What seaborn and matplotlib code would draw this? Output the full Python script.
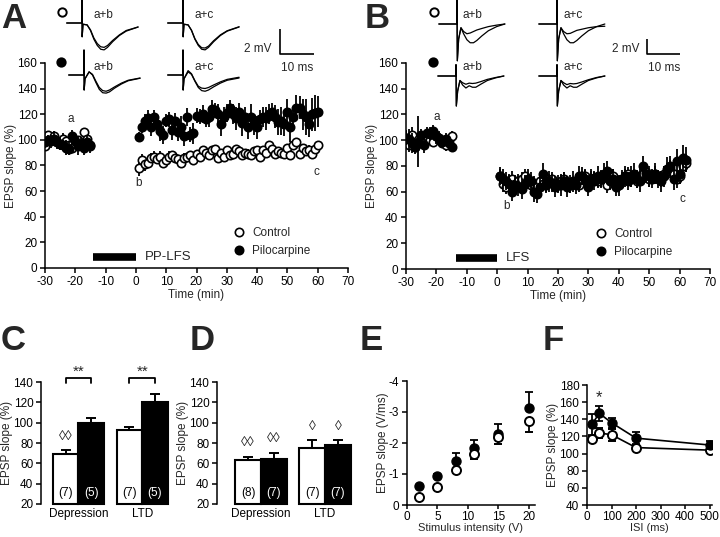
import numpy as np
import pandas as pd
import matplotlib
matplotlib.use("Agg")
import matplotlib.pyplot as plt
from matplotlib.lines import Line2D
import seaborn as sns

sns.set_style("ticks")
plt.rcParams['font.family'] = ['Liberation Sans', 'DejaVu Sans']
plt.rcParams['axes.unicode_minus'] = False
plt.rcParams['axes.linewidth'] = 1.1

# ---------------- data ----------------
# Panel A (PP-LFS)
A_base_t = list(range(-30, -14))
A_ctrl_base = [95, 104, 100, 103, 98, 97, 101, 99, 96, 94, 99, 100, 97, 106, 101, 96]
A_ctrl_base_err = [4, 3, 3, 4, 3, 3, 4, 3, 3, 4, 3, 3, 4, 3, 4, 3]
A_pilo_base = [98, 100, 99, 101, 98, 97, 96, 94, 93, 103, 99, 95, 97, 94, 98, 95]
A_pilo_base_err = [4, 4, 5, 4, 5, 5, 4, 6, 5, 5, 6, 7, 5, 6, 5, 5]
A_post_t = list(range(1, 61))
A_ctrl_post = [78, 84, 81, 82, 86, 87, 85, 87, 82, 84,
               87, 88, 86, 85, 82, 86, 87, 88, 84, 89,
               87, 92, 90, 88, 92, 93, 86, 90, 87, 92,
               88, 89, 93, 91, 88, 90, 89, 88, 91, 92,
               87, 92, 90, 96, 93, 89, 91, 90, 89, 94,
               88, 96, 98, 89, 94, 91, 92, 89, 93, 96]
A_ctrl_post_err = [6, 5, 5, 4, 4, 4, 4, 4, 3, 4,
                   4, 3, 4, 3, 3, 4, 3, 3, 4, 3,
                   3, 3, 4, 3, 3, 3, 4, 3, 3, 3,
                   3, 4, 3, 3, 3, 3, 4, 3, 3, 3,
                   4, 3, 3, 3, 3, 4, 3, 3, 4, 3,
                   4, 3, 3, 4, 3, 3, 4, 3, 3, 3]
A_pilo_post = [102, 110, 115, 117, 110, 118, 112, 107, 104, 115,
               116, 108, 115, 106, 110, 103, 118, 104, 105, 119,
               118, 120, 116, 118, 124, 123, 120, 112, 118, 121,
               125, 120, 117, 122, 113, 118, 110, 118, 112, 110,
               116, 118, 117, 120, 122, 118, 114, 115, 112, 122,
               110, 118, 125, 125, 120, 118, 112, 120, 121, 122]
A_pilo_post_err = [4, 5, 5, 6, 7, 5, 6, 8, 7, 5,
                   6, 8, 6, 7, 9, 8, 7, 6, 8, 6,
                   6, 7, 6, 8, 7, 6, 8, 9, 8, 7,
                   6, 8, 9, 7, 10, 8, 9, 10, 8, 9,
                   7, 8, 9, 8, 7, 9, 10, 11, 9, 10,
                   12, 8, 10, 9, 12, 14, 10, 13, 14, 12]

# Panel B (LFS)
B_base_t = list(range(-30, -14))
B_ctrl_base = [102, 96, 104, 95, 100, 98, 101, 103, 100, 99, 103, 101, 98, 96, 100, 103]
B_ctrl_base_err = [5, 5, 6, 4, 5, 4, 4, 5, 4, 4, 5, 4, 4, 4, 4, 4]
B_pilo_base = [102, 101, 98, 95, 99, 104, 96, 106, 105, 107, 103, 102, 99, 101, 98, 95]
B_pilo_base_err = [6, 8, 8, 6, 20, 5, 6, 4, 5, 5, 6, 5, 4, 5, 4, 4]
B_post_t = list(range(1, 63))
B_ctrl_post = [72, 66, 64, 68, 70, 66, 68, 70, 72, 68,
               65, 66, 64, 68, 66, 65, 68, 70, 66, 65,
               68, 70, 67, 65, 66, 68, 65, 70, 72, 68,
               70, 71, 68, 70, 72, 65, 70, 72, 68, 66,
               70, 72, 74, 70, 72, 68, 72, 74, 75, 70,
               72, 74, 72, 70, 74, 76, 78, 74, 70, 72,
               80, 82]
B_ctrl_post_err = [6, 6, 6, 5, 6, 5, 6, 5, 6, 5,
                   5, 6, 5, 6, 5, 5, 6, 5, 6, 5,
                   6, 5, 5, 6, 5, 6, 5, 6, 5, 5,
                   6, 5, 5, 6, 5, 6, 5, 6, 5, 6,
                   5, 6, 5, 6, 6, 5, 6, 5, 6, 6,
                   6, 6, 5, 6, 6, 6, 7, 6, 7, 6,
                   7, 7]
B_pilo_post = [72, 70, 68, 66, 60, 65, 64, 62, 66, 70,
               68, 60, 58, 64, 74, 66, 68, 67, 64, 66,
               65, 68, 64, 66, 68, 65, 72, 72, 70, 64,
               70, 68, 72, 70, 74, 76, 68, 70, 64, 65,
               70, 72, 68, 72, 74, 70, 68, 80, 74, 72,
               70, 74, 70, 68, 72, 78, 80, 70, 84, 74,
               86, 85]
B_pilo_post_err = [7, 8, 7, 8, 7, 8, 7, 8, 7, 8,
                   7, 8, 7, 8, 8, 7, 8, 7, 8, 7,
                   8, 7, 8, 7, 8, 7, 8, 7, 8, 7,
                   8, 7, 8, 7, 8, 8, 7, 8, 7, 8,
                   7, 8, 7, 8, 8, 7, 8, 8, 7, 8,
                   7, 8, 7, 8, 8, 9, 8, 9, 9, 8,
                   10, 10]

# Panels C/D
bar_cats = ["Depression", "LTD"]
C_ctrl = [69, 93]; C_ctrl_err = [4, 3]; C_ctrl_n = ["(7)", "(7)"]
C_pilo = [100, 120]; C_pilo_err = [5, 8]; C_pilo_n = ["(5)", "(5)"]
D_ctrl = [63, 75]; D_ctrl_err = [3, 8]; D_ctrl_n = ["(8)", "(7)"]
D_pilo = [64, 78]; D_pilo_err = [6, 5]; D_pilo_n = ["(7)", "(7)"]

# Panel E
E_int = [2, 5, 8, 11, 15, 20]
E_ctrl = [-0.25, -0.57, -1.12, -1.65, -2.2, -2.72]
E_ctrl_err = [0.05, 0.08, 0.1, 0.15, 0.23, 0.35]
E_pilo = [-0.6, -0.92, -1.43, -1.85, -2.3, -3.13]
E_pilo_err = [0.05, 0.08, 0.25, 0.25, 0.32, 0.5]

# Panel F
F_isi = [20, 50, 100, 200, 500]
F_ctrl = [117, 124, 122, 107, 104]
F_ctrl_err = [4, 6, 7, 3, 3]
F_pilo = [134, 147, 136, 118, 110]
F_pilo_err = [12, 9, 6, 7, 5]

# Example traces (ms, mV)
A_tr_t = [-4.5, -0.05, 0.0, 0.05, 0.3, 1.5, 2.5, 3.5, 4.5, 5.5, 6.5, 7.5, 9.0, 11.0, 13.0, 16.5]
A_open_a = [0.0, 0.0, 1.84, -1.1, -0.1, -0.15, -0.6, -1.3, -1.8, -2.1, -2.15, -1.95, -1.5, -1.0, -0.65, -0.32]
A_open_b = [0.0, 0.0, 1.84, -1.1, -0.1, -0.15, -0.55, -1.2, -1.65, -1.9, -1.95, -1.8, -1.4, -0.95, -0.6, -0.32]
A_open_c = [0.0, 0.0, 1.84, -1.1, -0.1, -0.15, -0.57, -1.25, -1.72, -1.98, -2.0, -1.85, -1.42, -0.95, -0.62, -0.3]
A_fill_a = [0.0, 0.0, 2.0, -1.2, -0.3, 0.25, 0.05, -0.5, -1.0, -1.25, -1.3, -1.2, -0.95, -0.65, -0.42, -0.24]
A_fill_b = [0.0, 0.0, 2.0, -1.2, -0.3, 0.25, 0.0, -0.6, -1.15, -1.42, -1.45, -1.35, -1.05, -0.72, -0.46, -0.26]
A_fill_c = [0.0, 0.0, 2.0, -1.2, -0.3, 0.35, 0.1, -0.45, -0.9, -1.05, -1.08, -1.0, -0.8, -0.55, -0.35, -0.18]
B_tr_t = [-5.5, -0.05, 0.0, 0.1, 0.5, 1.2, 2.0, 3.0, 4.0, 5.0, 6.0, 7.5, 9.5, 12.0, 14.5]
B_open_a = [0, 0, 3.2, -4.9, -2.0, -0.5, -1.3, -2.1, -2.5, -2.5, -2.2, -1.6, -0.9, -0.35, 0.0]
B_open_b = [0, 0, 3.2, -4.9, -2.0, -0.5, -1.0, -1.3, -1.2, -1.0, -0.8, -0.6, -0.35, -0.15, 0.0]
B_open_c = [0, 0, 3.2, -4.9, -2.0, -0.5, -1.0, -1.3, -1.25, -1.05, -0.85, -0.7, -0.5, -0.35, -0.3]
B_fill_a = [0, 0, 1.5, -4.0, -2.0, -0.6, -1.2, -1.6, -1.3, -1.5, -1.5, -1.1, -0.6, -0.25, 0.0]
B_fill_b = [0, 0, 1.5, -4.0, -2.0, -0.6, -0.9, -1.1, -0.95, -1.0, -0.95, -0.75, -0.45, -0.2, 0.0]
B_fill_c = [0, 0, 1.5, -4.0, -2.0, -0.6, -0.9, -1.15, -1.0, -1.05, -1.0, -0.8, -0.5, -0.2, 0.0]

scale_mV = 2
scale_ms = 10

# ---------------- figure ----------------
W, H = 720, 537
fig = plt.figure(figsize=(W / 100, H / 100), dpi=100)


def px_axes(l, t, r, b):
    return fig.add_axes([l / W, 1 - b / H, (r - l) / W, (b - t) / H])


FS = 8.5
MS = 6


def style_ax(ax):
    sns.despine(ax=ax)
    ax.tick_params(direction='out', length=3.5, width=1.1, labelsize=FS, pad=2, colors='black')
    for s in ax.spines.values():
        s.set_color('black')


def timecourse(ax, series, label_pos, stim, stim_label):
    for (t, y, e, face) in series:
        ax.errorbar(t, y, yerr=e, fmt='o', ms=MS, mfc=face, mec='black', mew=1.2,
                    ecolor='black', elinewidth=1.3, capsize=0, zorder=3 if face == 'black' else 2)
    ax.set_xlim(-30, 70)
    ax.set_ylim(0, 160)
    ax.set_xticks(range(-30, 71, 10))
    ax.set_yticks(range(0, 161, 20))
    ax.set_xlabel("Time (min)", fontsize=FS, labelpad=1)
    ax.set_ylabel("EPSP slope (%)", fontsize=FS, labelpad=0)
    style_ax(ax)
    for txt, (x, y) in label_pos.items():
        ax.text(x, y, txt, fontsize=FS, ha='center', va='center')
    ax.plot(stim, [8.5, 8.5], color='black', lw=5.5, solid_capstyle='butt')
    ax.text(stim[1] + 3, 8.5, stim_label, fontsize=FS + 1, va='center', ha='left')
    handles = [Line2D([], [], ls='none', marker='o', ms=MS, mfc='white', mec='black', mew=1.2),
               Line2D([], [], ls='none', marker='o', ms=MS, mfc='black', mec='black', mew=1.2)]
    ax.legend(handles, ["Control", "Pilocarpine"], loc='upper left', bbox_to_anchor=(0.622, 0.2),
              frameon=False, fontsize=FS, handlelength=1.0, handletextpad=0.6,
              borderpad=0, borderaxespad=0, labelspacing=0.5)


axA = px_axes(45, 63, 348, 268)
timecourse(axA,
           [(A_base_t, A_ctrl_base, A_ctrl_base_err, 'white'),
            (A_base_t, A_pilo_base, A_pilo_base_err, 'black'),
            (A_post_t, A_ctrl_post, A_ctrl_post_err, 'white'),
            (A_post_t, A_pilo_post, A_pilo_post_err, 'black')],
           {'a': (-21.5, 116), 'b': (1, 66), 'c': (59.5, 75)}, [-14, 0], "PP-LFS")

axB = px_axes(406, 63, 710, 269)
timecourse(axB,
           [(B_base_t, B_ctrl_base, B_ctrl_base_err, 'white'),
            (B_base_t, B_pilo_base, B_pilo_base_err, 'black'),
            (B_post_t, B_ctrl_post, B_ctrl_post_err, 'white'),
            (B_post_t, B_pilo_post, B_pilo_post_err, 'black')],
           {'a': (-20, 118), 'b': (3, 49), 'c': (61, 54)}, [-13.5, 0], "LFS")


# traces
def trace_axes(stim_x, base_y, pxms, pxmv, xlim, ylim, t, traces):
    l = stim_x + xlim[0] * pxms
    r = stim_x + xlim[1] * pxms
    top = base_y - ylim[1] * pxmv
    bot = base_y - ylim[0] * pxmv
    ax = px_axes(l, top, r, bot)
    for v in traces:
        ax.plot(t, v, color='black', lw=0.9)
    ax.set_xlim(*xlim)
    ax.set_ylim(*ylim)
    ax.axis('off')
    return ax


def scale_bar(x0, y0, pxms, pxmv):
    ax = px_axes(x0, y0 - scale_mV * pxmv, x0 + scale_ms * pxms, y0)
    ax.plot([0, 0, scale_ms], [scale_mV, 0, 0], color='black', lw=1.2, clip_on=False,
            solid_capstyle='butt')
    ax.set_xlim(0, scale_ms)
    ax.set_ylim(0, scale_mV)
    ax.axis('off')


pA_ms, pA_mv = 3.4, 12.5
trace_axes(82, 23, pA_ms, pA_mv, (-5, 20), (-2.6, 1.84), A_tr_t, [A_open_a, A_open_b])
trace_axes(183, 23, pA_ms, pA_mv, (-5, 20), (-2.6, 1.84), A_tr_t, [A_open_a, A_open_c])
trace_axes(84, 75, pA_ms, pA_mv, (-5, 20), (-2.6, 2.2), A_tr_t, [A_fill_a, A_fill_b])
trace_axes(183, 75, pA_ms, pA_mv, (-5, 20), (-2.6, 2.2), A_tr_t, [A_fill_a, A_fill_c])
scale_bar(280, 54, pA_ms, pA_mv)

pB_ms, pB_mv = 3.3, 7.5
trace_axes(457, 24, pB_ms, pB_mv, (-6, 16), (-5.2, 3.2), B_tr_t, [B_open_a, B_open_b])
trace_axes(557, 24, pB_ms, pB_mv, (-6, 16), (-5.2, 3.2), B_tr_t, [B_open_a, B_open_c])
trace_axes(456, 76, pB_ms, pB_mv, (-6, 16), (-5.2, 2.0), B_tr_t, [B_fill_a, B_fill_b])
trace_axes(557, 76, pB_ms, pB_mv, (-6, 16), (-5.2, 2.0), B_tr_t, [B_fill_a, B_fill_c])
scale_bar(647, 54, pB_ms, pB_mv)

# trace annotations
for (x, y, s) in [(103, 15, "a+b"), (204, 15, "a+c"), (103, 67, "a+b"), (204, 67, "a+c"),
                  (472, 15, "a+b"), (573, 15, "a+c"), (472, 67, "a+b"), (573, 67, "a+c")]:
    fig.text(x / W, 1 - y / H, s, fontsize=FS, ha='center', va='center')
for (x, y, s, ha) in [(272, 49, "2 mV", 'right'), (297, 68, "10 ms", 'center'),
                      (639, 49, "2 mV", 'right'), (664, 68, "10 ms", 'center')]:
    fig.text(x / W, 1 - y / H, s, fontsize=FS, ha=ha, va='center')
for (x, y, face) in [(62, 12, 'white'), (61, 62, 'black'), (434, 12, 'white'), (433, 62, 'black')]:
    fig.add_artist(Line2D([x / W], [1 - y / H], transform=fig.transFigure, marker='o', ms=6,
                          mfc=face, mec='black', mew=1.4, ls='none'))


# bar panels
def bar_panel(ax, ctrl, ctrl_err, ctrl_n, pilo, pilo_err, pilo_n):
    df = pd.DataFrame({'cat': bar_cats * 2,
                       'grp': ['Control'] * 2 + ['Pilocarpine'] * 2,
                       'val': ctrl + pilo})
    sns.barplot(data=df, x='cat', y='val', hue='grp', palette={'Control': 'white', 'Pilocarpine': 'black'},
                edgecolor='black', linewidth=1.5, width=0.8, errorbar=None, legend=False, ax=ax)
    base = 20
    centers = {}
    for cont, errs, ns, col, key in [(ax.containers[0], ctrl_err, ctrl_n, 'black', 'c'),
                                     (ax.containers[1], pilo_err, pilo_n, 'white', 'p')]:
        xs, hs = [], []
        for p, e, n in zip(cont.patches, errs, ns):
            h = p.get_height()
            p.set_y(base)
            p.set_height(h - base)
            p.set_clip_on(False)
            xc = p.get_x() + p.get_width() / 2
            xs.append(xc); hs.append(h)
            ax.text(xc, 31, n, color=col, fontsize=FS, ha='center', va='center', zorder=5)
        ax.errorbar(xs, hs, yerr=[np.zeros(len(errs)), errs], fmt='none', ecolor='black',
                    elinewidth=1.4, capsize=3.5, capthick=1.4, zorder=1)
        centers[key] = xs
    ax.set_ylim(20, 140)
    ax.set_yticks(range(20, 141, 20))
    ax.set_xlabel("")
    ax.set_ylabel("EPSP slope (%)", fontsize=FS, labelpad=0)
    style_ax(ax)
    ax.spines['bottom'].set_visible(False)
    ax.tick_params(axis='x', length=0, pad=3)
    return centers


axC = px_axes(41, 382, 171, 504)
cC = bar_panel(axC, C_ctrl, C_ctrl_err, C_ctrl_n, C_pilo, C_pilo_err, C_pilo_n)
axC.set_xlim(-0.584, 1.45)
for i in range(2):
    x0, x1 = cC['c'][i], cC['p'][i]
    axC.plot([x0, x0, x1, x1], [139, 144, 144, 139], color='black', lw=1.3, clip_on=False)
    axC.text((x0 + x1) / 2, 150, "**", fontsize=11, ha='center', va='center', clip_on=False)
axC.text(cC['c'][0], 87, "◊◊", fontsize=10, ha='center', va='center')

axD = px_axes(217, 382, 354, 504)
cD = bar_panel(axD, D_ctrl, D_ctrl_err, D_ctrl_n, D_pilo, D_pilo_err, D_pilo_n)
axD.set_xlim(-0.684, 1.45)
for (x, y, s) in [(cD['c'][0], 81, "◊◊"), (cD['p'][0], 85, "◊◊"), (cD['c'][1], 97, "◊"), (cD['p'][1], 97, "◊")]:
    axD.text(x, y, s, fontsize=10, ha='center', va='center')

# Panel E
axE = px_axes(407, 381, 535, 505)
axE.errorbar(E_int, E_pilo, yerr=[E_pilo_err, np.zeros(len(E_pilo_err))], fmt='o', ms=6.5,
             mfc='black', mec='black', ecolor='black', elinewidth=1.3, capsize=3, capthick=1.3, zorder=2)
axE.errorbar(E_int, E_ctrl, yerr=[np.zeros(len(E_ctrl_err)), E_ctrl_err], fmt='o', ms=6.5,
             mfc='white', mec='black', mew=1.4, ecolor='black', elinewidth=1.3, capsize=3, capthick=1.3, zorder=3)
axE.set_xlim(0, 21)
axE.set_ylim(0, -4)
axE.set_xticks([0, 5, 10, 15, 20])
axE.set_yticks([0, -1, -2, -3, -4])
axE.set_ylabel("EPSP slope (V/ms)", fontsize=FS, labelpad=0)
style_ax(axE)
axE.tick_params(axis='x', length=3, pad=1)
axE.set_xlabel("Stimulus intensity (V)", fontsize=8, labelpad=0)

# Panel F
axF = px_axes(587, 385, 712, 505)
dfF = pd.DataFrame({'isi': F_isi * 2, 'val': F_ctrl + F_pilo,
                    'grp': ['Control'] * 5 + ['Pilocarpine'] * 5})
sns.lineplot(data=dfF, x='isi', y='val', hue='grp', palette={'Control': 'black', 'Pilocarpine': 'black'},
             lw=1.2, legend=False, ax=axF, zorder=1)
axF.errorbar(F_isi, F_ctrl, yerr=F_ctrl_err, fmt='o', ms=6.5,
             mfc='white', mec='black', mew=1.4, ecolor='black', elinewidth=1.3, capsize=3, capthick=1.3, zorder=2)
axF.errorbar(F_isi, F_pilo, yerr=F_pilo_err, fmt='o', ms=6.5,
             mfc='black', mec='black', ecolor='black', elinewidth=1.3, capsize=3, capthick=1.3, zorder=3)
axF.text(F_isi[1], 165, "*", fontsize=12, ha='center', va='center')
axF.set_xlim(0, 510)
axF.set_ylim(40, 180)
axF.set_xticks(range(0, 501, 100))
axF.set_yticks(range(40, 181, 20))
axF.set_ylabel("EPSP slope (%)", fontsize=FS, labelpad=0)
style_ax(axF)
axF.tick_params(axis='x', length=3, pad=1)
axF.set_xlabel("ISI (ms)", fontsize=8, labelpad=0)

# panel letters
for (x, y, s) in [(1, 18, "A"), (365, 18, "B"), (1, 340, "C"), (190, 340, "D"), (360, 340, "E"), (543, 340, "F")]:
    fig.text(x / W, 1 - y / H, s, fontsize=25, fontweight='bold', ha='left', va='center')

fig.savefig("out.png", dpi=100)
